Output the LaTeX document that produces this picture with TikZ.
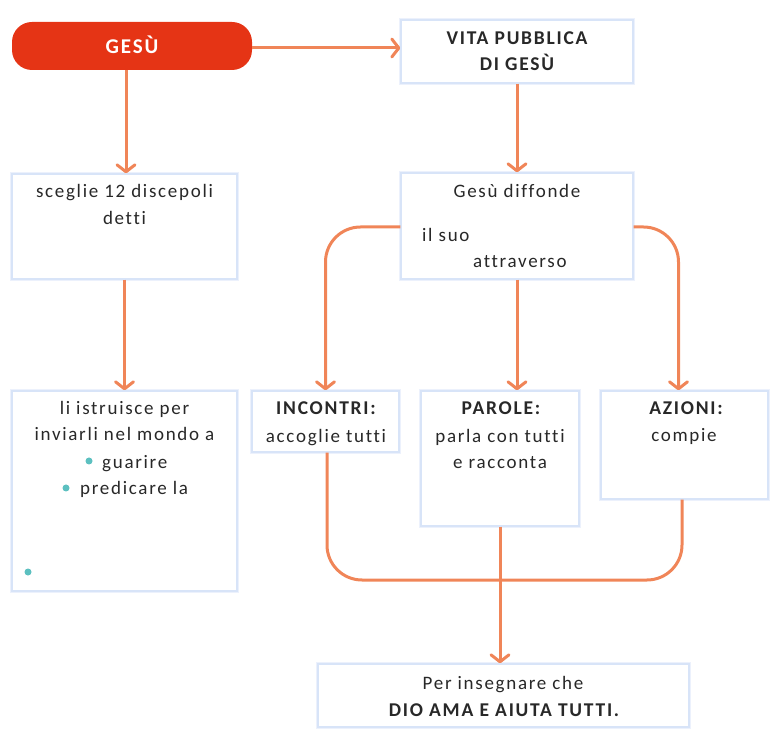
\documentclass[tikz,border=0pt]{standalone}
\usepackage{fontspec}
\setmainfont{Carlito}[LetterSpace=9,Ligatures={NoCommon}]
\usetikzlibrary{arrows.meta}
\definecolor{conncol}{RGB}{240,133,88}
\definecolor{boxedge}{RGB}{216,228,248}
\definecolor{boxglow}{RGB}{236,241,252}
\definecolor{gesured}{RGB}{229,52,21}
\definecolor{txt}{RGB}{40,40,40}
\definecolor{bul}{RGB}{92,192,192}
\tikzset{
  box/.style={draw=boxedge, line width=1.4pt, fill=white, rectangle, inner sep=0pt,
    preaction={draw=boxglow, line width=4pt}},
  conn/.style={draw=conncol, line width=3pt, -{Straight Barb[length=7pt,width=18pt,line cap=round,line join=round]}},
  bus/.style={draw=conncol, line width=3pt},
  lbl/.style={text=txt, font=\fontsize{19}{22}\selectfont, inner sep=0pt, anchor=base},
  blbl/.style={text=txt, font=\fontsize{19.5}{22}\selectfont\bfseries, inner sep=0pt, anchor=base},
  dot/.style={circle, fill=bul, inner sep=0pt, minimum size=7pt},
}
\begin{document}
\begin{tikzpicture}[x=1pt,y=-1pt]
\useasboundingbox (0,0) rectangle (780,743);
% boxes
\node[fill=gesured, rounded corners=20pt, minimum width=240pt, minimum height=48pt, inner sep=0pt] (gesu) at (132,46) {};
\node[box, minimum width=232pt, minimum height=63pt] (vita) at (517,51.5) {};
\node[box, minimum width=232pt, minimum height=106pt] (diff) at (517,226) {};
\node[box, minimum width=225pt, minimum height=105pt] (sceglie) at (124.5,226.5) {};
\node[box, minimum width=225pt, minimum height=200pt] (istr) at (124.5,491) {};
\node[box, minimum width=147pt, minimum height=61pt] (incontri) at (325.5,421.5) {};
\node[box, minimum width=158pt, minimum height=135pt] (parole) at (500,458.5) {};
\node[box, minimum width=167pt, minimum height=108pt] (azioni) at (684.5,445) {};
\node[box, minimum width=371pt, minimum height=63pt] (final) at (503.5,695.5) {};
% texts
\node[blbl, text=white, font=\fontsize{21}{22}\selectfont\bfseries] (tgesu) at (132,54) {GESÙ};
\node[blbl] (tvita1) at (517,45) {VITA PUBBLICA};
\node[blbl] (tvita2) at (517,71) {DI GESÙ};
\node[lbl] (tdiff1) at (517,198) {Gesù diffonde};
\node[lbl, anchor=base west] (tdiff2) at (422,242) {il suo};
\node[lbl, anchor=base west] (tdiff3) at (473,268) {attraverso};
\node[lbl] (tsc1) at (124.5,198) {sceglie 12 discepoli};
\node[lbl] (tsc2) at (124.5,225) {detti};
\node[lbl] (tis1) at (124.5,415) {li istruisce per};
\node[lbl] (tis2) at (124.5,441) {inviarli nel mondo a};
\node[lbl, anchor=base west] (tis3) at (102,468) {guarire};
\node[lbl, anchor=base west] (tis4) at (80,494) {predicare la};
\node[dot] (d1) at (89,461) {};
\node[dot] (d2) at (66,488) {};
\node[dot] (d3) at (28,572) {};
\node[blbl] (tin1) at (326,415) {INCONTRI:};
\node[lbl] (tin2) at (326,443) {accoglie tutti};
\node[blbl] (tpa1) at (501,415) {PAROLE:};
\node[lbl] (tpa2) at (500,443) {parla con tutti};
\node[lbl] (tpa3) at (500,469) {e racconta};
\node[blbl] (taz1) at (686,415) {AZIONI:};
\node[lbl] (taz2) at (684,442) {compie};
\node[lbl] (tfi1) at (503,689) {Per insegnare che};
\node[blbl] (tfi2) at (504,716) {DIO AMA E AIUTA TUTTI.};
% connectors
\draw[conn] (gesu.east |- 0,48) -- (vita.west |- 0,48);
\draw[conn] (sceglie.north -| 126,0) ++(0,-103) -- (sceglie.north -| 126,0);
\draw[conn] (sceglie.south) -- (istr.north);
\draw[conn] (vita.south) -- (diff.north);
\draw[conn, rounded corners=35pt] (diff.west |- 0,227) -| (incontri.north);
\draw[conn, rounded corners=35pt] (diff.east |- 0,227) -| ([xshift=-6pt]azioni.north);
\draw[conn] (diff.south) -- (diff.south |- parole.north);
\coordinate (busmid) at (500,580);
\draw[bus, rounded corners=35pt] ([xshift=1.5pt]incontri.south) |- (busmid) -| ([xshift=-2.5pt]azioni.south);
\draw[conn] (parole.south) -- (parole.south |- final.north);
\end{tikzpicture}
\end{document}
